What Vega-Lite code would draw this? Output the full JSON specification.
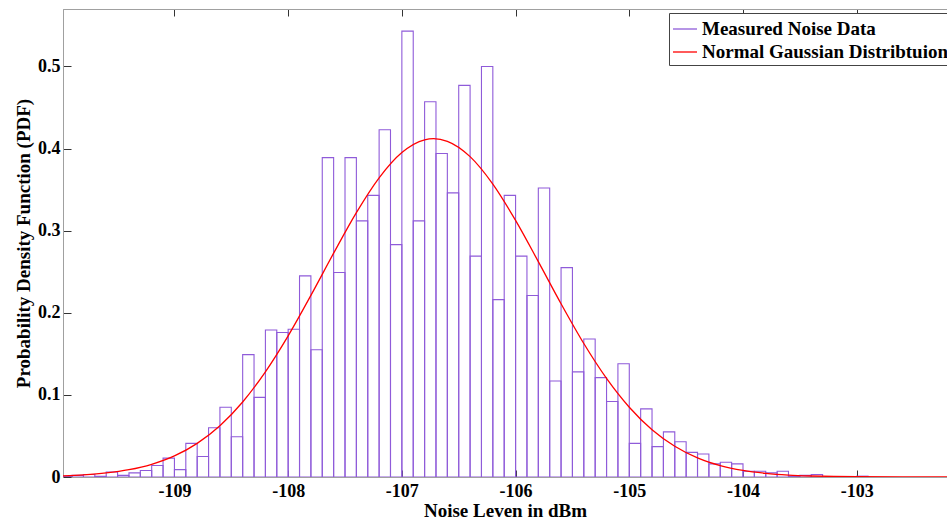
{
  "$schema": "https://vega.github.io/schema/vega-lite/v6.json",
  "width": 884,
  "height": 468,
  "autosize": {"type": "none"},
  "padding": {"left": 63, "top": 9, "right": 0, "bottom": 46},
  "background": "white",
  "config": {
    "view": {"stroke": "#a0a0a0", "strokeWidth": 1},
    "font": "Liberation Serif",
    "axis": {
      "grid": false,
      "domainColor": "#a0a0a0",
      "tickColor": "#333333",
      "labelFont": "Liberation Serif",
      "labelFontWeight": "bold",
      "labelColor": "#000000",
      "titleFont": "Liberation Serif",
      "titleFontWeight": "bold",
      "titleColor": "#000000"
    }
  },
  "datasets": {
    "bins": [
      {"x0": -110.0, "x1": -109.9, "pdf": 0.001},
      {"x0": -109.9, "x1": -109.8, "pdf": 0.002},
      {"x0": -109.8, "x1": -109.7, "pdf": 0.003},
      {"x0": -109.7, "x1": -109.6, "pdf": 0.001},
      {"x0": -109.6, "x1": -109.5, "pdf": 0.006},
      {"x0": -109.5, "x1": -109.4, "pdf": 0.002},
      {"x0": -109.4, "x1": -109.3, "pdf": 0.005},
      {"x0": -109.3, "x1": -109.2, "pdf": 0.008},
      {"x0": -109.2, "x1": -109.1, "pdf": 0.014},
      {"x0": -109.1, "x1": -109.0, "pdf": 0.023},
      {"x0": -109.0, "x1": -108.9, "pdf": 0.009},
      {"x0": -108.9, "x1": -108.8, "pdf": 0.041},
      {"x0": -108.8, "x1": -108.7, "pdf": 0.025},
      {"x0": -108.7, "x1": -108.6, "pdf": 0.060},
      {"x0": -108.6, "x1": -108.5, "pdf": 0.085},
      {"x0": -108.5, "x1": -108.4, "pdf": 0.049},
      {"x0": -108.4, "x1": -108.3, "pdf": 0.149},
      {"x0": -108.3, "x1": -108.2, "pdf": 0.097},
      {"x0": -108.2, "x1": -108.1, "pdf": 0.179},
      {"x0": -108.1, "x1": -108.0, "pdf": 0.176},
      {"x0": -108.0, "x1": -107.9, "pdf": 0.180},
      {"x0": -107.9, "x1": -107.8, "pdf": 0.245},
      {"x0": -107.8, "x1": -107.7, "pdf": 0.155},
      {"x0": -107.7, "x1": -107.6, "pdf": 0.389},
      {"x0": -107.6, "x1": -107.5, "pdf": 0.249},
      {"x0": -107.5, "x1": -107.4, "pdf": 0.389},
      {"x0": -107.4, "x1": -107.3, "pdf": 0.312},
      {"x0": -107.3, "x1": -107.2, "pdf": 0.343},
      {"x0": -107.2, "x1": -107.1, "pdf": 0.423},
      {"x0": -107.1, "x1": -107.0, "pdf": 0.283},
      {"x0": -107.0, "x1": -106.9, "pdf": 0.543},
      {"x0": -106.9, "x1": -106.8, "pdf": 0.312},
      {"x0": -106.8, "x1": -106.7, "pdf": 0.457},
      {"x0": -106.7, "x1": -106.6, "pdf": 0.394},
      {"x0": -106.6, "x1": -106.5, "pdf": 0.346},
      {"x0": -106.5, "x1": -106.4, "pdf": 0.477},
      {"x0": -106.4, "x1": -106.3, "pdf": 0.269},
      {"x0": -106.3, "x1": -106.2, "pdf": 0.500},
      {"x0": -106.2, "x1": -106.1, "pdf": 0.216},
      {"x0": -106.1, "x1": -106.0, "pdf": 0.343},
      {"x0": -106.0, "x1": -105.9, "pdf": 0.269},
      {"x0": -105.9, "x1": -105.8, "pdf": 0.221},
      {"x0": -105.8, "x1": -105.7, "pdf": 0.352},
      {"x0": -105.7, "x1": -105.6, "pdf": 0.117},
      {"x0": -105.6, "x1": -105.5, "pdf": 0.255},
      {"x0": -105.5, "x1": -105.4, "pdf": 0.128},
      {"x0": -105.4, "x1": -105.3, "pdf": 0.168},
      {"x0": -105.3, "x1": -105.2, "pdf": 0.121},
      {"x0": -105.2, "x1": -105.1, "pdf": 0.092},
      {"x0": -105.1, "x1": -105.0, "pdf": 0.138},
      {"x0": -105.0, "x1": -104.9, "pdf": 0.041},
      {"x0": -104.9, "x1": -104.8, "pdf": 0.083},
      {"x0": -104.8, "x1": -104.7, "pdf": 0.037},
      {"x0": -104.7, "x1": -104.6, "pdf": 0.055},
      {"x0": -104.6, "x1": -104.5, "pdf": 0.043},
      {"x0": -104.5, "x1": -104.4, "pdf": 0.030},
      {"x0": -104.4, "x1": -104.3, "pdf": 0.028},
      {"x0": -104.3, "x1": -104.2, "pdf": 0.016},
      {"x0": -104.2, "x1": -104.1, "pdf": 0.018},
      {"x0": -104.1, "x1": -104.0, "pdf": 0.016},
      {"x0": -104.0, "x1": -103.9, "pdf": 0.007},
      {"x0": -103.9, "x1": -103.8, "pdf": 0.007},
      {"x0": -103.8, "x1": -103.7, "pdf": 0.005},
      {"x0": -103.7, "x1": -103.6, "pdf": 0.007},
      {"x0": -103.6, "x1": -103.5, "pdf": 0.001},
      {"x0": -103.5, "x1": -103.4, "pdf": 0.002},
      {"x0": -103.4, "x1": -103.3, "pdf": 0.003},
      {"x0": -103.0, "x1": -102.9, "pdf": 0.001}
    ],
    "curve": [
      {"x": -110.0, "pdf": 0.0013},
      {"x": -109.8, "pdf": 0.0026},
      {"x": -109.6, "pdf": 0.0049},
      {"x": -109.4, "pdf": 0.0089},
      {"x": -109.2, "pdf": 0.0155},
      {"x": -109.0, "pdf": 0.0257},
      {"x": -108.8, "pdf": 0.0410},
      {"x": -108.6, "pdf": 0.0625},
      {"x": -108.4, "pdf": 0.0914},
      {"x": -108.2, "pdf": 0.1281},
      {"x": -108.0, "pdf": 0.1719},
      {"x": -107.8, "pdf": 0.2212},
      {"x": -107.6, "pdf": 0.2726},
      {"x": -107.4, "pdf": 0.3220},
      {"x": -107.2, "pdf": 0.3644},
      {"x": -107.0, "pdf": 0.3952},
      {"x": -106.8, "pdf": 0.4107},
      {"x": -106.72, "pdf": 0.4121},
      {"x": -106.6, "pdf": 0.4089},
      {"x": -106.4, "pdf": 0.3902},
      {"x": -106.2, "pdf": 0.3567},
      {"x": -106.0, "pdf": 0.3125},
      {"x": -105.8, "pdf": 0.2623},
      {"x": -105.6, "pdf": 0.2110},
      {"x": -105.4, "pdf": 0.1626},
      {"x": -105.2, "pdf": 0.1201},
      {"x": -105.0, "pdf": 0.0850},
      {"x": -104.8, "pdf": 0.0576},
      {"x": -104.6, "pdf": 0.0375},
      {"x": -104.4, "pdf": 0.0233},
      {"x": -104.2, "pdf": 0.0139},
      {"x": -104.0, "pdf": 0.0080},
      {"x": -103.8, "pdf": 0.0044},
      {"x": -103.6, "pdf": 0.0023},
      {"x": -103.4, "pdf": 0.0012},
      {"x": -103.2, "pdf": 0.0006},
      {"x": -103.0, "pdf": 0.0003},
      {"x": -102.6, "pdf": 0.00004},
      {"x": -102.2, "pdf": 0.0}
    ]
  },
  "resolve": {"axis": {"x": "independent"}},
  "layer": [
    {
      "data": {"name": "bins"},
      "mark": {"type": "rect", "fill": null, "fillOpacity": 0, "strokeWidth": 1.1, "clip": true},
      "encoding": {
        "x": {
          "field": "x0", "type": "quantitative",
          "scale": {"domain": [-109.98, -102.206], "nice": false, "zero": false},
          "axis": {
            "orient": "bottom",
            "values": [-109, -108, -107, -106, -105, -104, -103],
            "labelExpr": "'' + datum.value",
            "labelFontSize": 18,
            "tickSize": -7,
            "labelPadding": 12,
            "title": "Noise Leven in dBm",
            "titleFontSize": 19,
            "titlePadding": 1
          }
        },
        "x2": {"field": "x1"},
        "y": {
          "field": "pdf", "type": "quantitative",
          "scale": {"domain": [0, 0.57], "nice": false},
          "axis": {
            "values": [0, 0.1, 0.2, 0.3, 0.4, 0.5],
            "format": ".1~f",
            "labelFontSize": 18,
            "tickSize": -8,
            "labelPadding": 11,
            "title": "Probability Density Function (PDF)",
            "titleFontSize": 19,
            "titlePadding": 4
          }
        },
        "y2": {"datum": 0},
        "stroke": {
          "datum": "Measured Noise Data",
          "type": "nominal",
          "scale": {
            "domain": ["Measured Noise Data", "Normal Gaussian Distribtuion"],
            "range": ["#8f5bd9", "#ff0000"]
          },
          "legend": {
            "orient": "none",
            "legendX": 606,
            "legendY": 4,
            "title": null,
            "symbolType": "stroke",
            "symbolSize": 576,
            "symbolStrokeWidth": 1.3,
            "labelFont": "Liberation Serif",
            "labelFontWeight": "bold",
            "labelFontSize": 19,
            "labelColor": "#000000",
            "labelOffset": 4,
            "labelLimit": 500,
            "strokeColor": "#444444",
            "fillColor": "white",
            "padding": 3,
            "rowPadding": -1
          }
        }
      }
    },
    {
      "data": {"name": "curve"},
      "mark": {"type": "line", "strokeWidth": 1.3, "interpolate": "monotone", "clip": true},
      "encoding": {
        "x": {
          "field": "x", "type": "quantitative",
          "scale": {"domain": [-109.98, -102.206], "nice": false, "zero": false},
          "axis": {
            "orient": "top",
            "values": [-109, -108, -107, -106, -105, -104, -103],
            "labels": false,
            "tickSize": -7,
            "title": null
          }
        },
        "y": {
          "field": "pdf", "type": "quantitative",
          "scale": {"domain": [0, 0.57], "nice": false},
          "axis": {
            "values": [0, 0.1, 0.2, 0.3, 0.4, 0.5],
            "format": ".1~f",
            "labelFontSize": 18,
            "tickSize": -8,
            "labelPadding": 11,
            "title": "Probability Density Function (PDF)",
            "titleFontSize": 19,
            "titlePadding": 4
          }
        },
        "stroke": {"datum": "Normal Gaussian Distribtuion", "type": "nominal"}
      }
    }
  ]
}
